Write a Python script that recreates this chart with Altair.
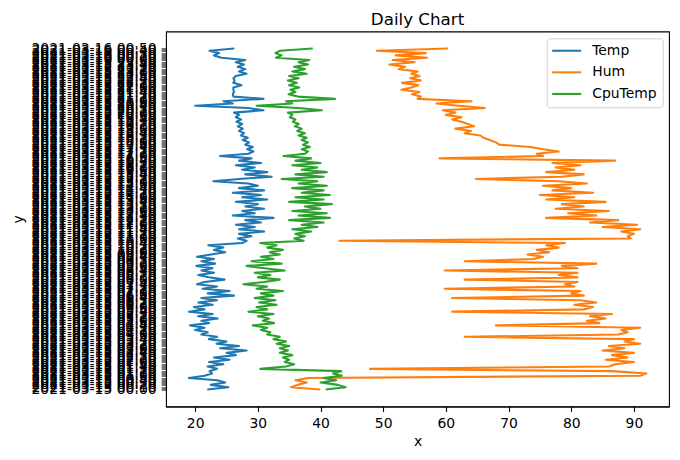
import altair as alt
import pandas as pd

# Category labels (y axis), listed from the top of the chart (last reading) down to the bottom (first reading)
times = [
    "2021-03-16 00:50", "2021-03-16 00:40", "2021-03-16 00:30", "2021-03-16 00:20", "2021-03-16 00:10", "2021-03-16 00:00",
    "2021-03-15 23:50", "2021-03-15 23:40", "2021-03-15 23:30", "2021-03-15 23:20", "2021-03-15 23:10", "2021-03-15 23:00",
    "2021-03-15 22:50", "2021-03-15 22:40", "2021-03-15 22:30", "2021-03-15 22:20", "2021-03-15 22:10", "2021-03-15 22:00",
    "2021-03-15 21:50", "2021-03-15 21:40", "2021-03-15 21:30", "2021-03-15 21:20", "2021-03-15 21:10", "2021-03-15 21:00",
    "2021-03-15 20:50", "2021-03-15 20:40", "2021-03-15 20:30", "2021-03-15 20:20", "2021-03-15 20:10", "2021-03-15 20:00",
    "2021-03-15 19:50", "2021-03-15 19:40", "2021-03-15 19:30", "2021-03-15 19:20", "2021-03-15 19:10", "2021-03-15 19:00",
    "2021-03-15 18:50", "2021-03-15 18:40", "2021-03-15 18:30", "2021-03-15 18:20", "2021-03-15 18:10", "2021-03-15 18:00",
    "2021-03-15 17:50", "2021-03-15 17:40", "2021-03-15 17:30", "2021-03-15 17:20", "2021-03-15 17:10", "2021-03-15 17:00",
    "2021-03-15 16:50", "2021-03-15 16:40", "2021-03-15 16:30", "2021-03-15 16:20", "2021-03-15 16:10", "2021-03-15 16:00",
    "2021-03-15 15:50", "2021-03-15 15:40", "2021-03-15 15:30", "2021-03-15 15:20", "2021-03-15 15:10", "2021-03-15 15:00",
    "2021-03-15 14:50", "2021-03-15 14:40", "2021-03-15 14:30", "2021-03-15 14:20", "2021-03-15 14:10", "2021-03-15 14:00",
    "2021-03-15 13:50", "2021-03-15 13:40", "2021-03-15 13:30", "2021-03-15 13:20", "2021-03-15 13:10", "2021-03-15 13:00",
    "2021-03-15 12:50", "2021-03-15 12:40", "2021-03-15 12:30", "2021-03-15 12:20", "2021-03-15 12:10", "2021-03-15 12:00",
    "2021-03-15 11:50", "2021-03-15 11:40", "2021-03-15 11:30", "2021-03-15 11:20", "2021-03-15 11:10", "2021-03-15 11:00",
    "2021-03-15 10:50", "2021-03-15 10:40", "2021-03-15 10:30", "2021-03-15 10:20", "2021-03-15 10:10", "2021-03-15 10:00",
    "2021-03-15 09:50", "2021-03-15 09:40", "2021-03-15 09:30", "2021-03-15 09:20", "2021-03-15 09:10", "2021-03-15 09:00",
    "2021-03-15 08:50", "2021-03-15 08:40", "2021-03-15 08:30", "2021-03-15 08:20", "2021-03-15 08:10", "2021-03-15 08:00",
    "2021-03-15 07:50", "2021-03-15 07:40", "2021-03-15 07:30", "2021-03-15 07:20", "2021-03-15 07:10", "2021-03-15 07:00",
    "2021-03-15 06:50", "2021-03-15 06:40", "2021-03-15 06:30", "2021-03-15 06:20", "2021-03-15 06:10", "2021-03-15 06:00",
    "2021-03-15 05:50", "2021-03-15 05:40", "2021-03-15 05:30", "2021-03-15 05:20", "2021-03-15 05:10", "2021-03-15 05:00",
    "2021-03-15 04:50", "2021-03-15 04:40", "2021-03-15 04:30", "2021-03-15 04:20", "2021-03-15 04:10", "2021-03-15 04:00",
    "2021-03-15 03:50", "2021-03-15 03:40", "2021-03-15 03:30", "2021-03-15 03:20", "2021-03-15 03:10", "2021-03-15 03:00",
    "2021-03-15 02:50", "2021-03-15 02:40", "2021-03-15 02:30", "2021-03-15 02:20", "2021-03-15 02:10", "2021-03-15 02:00",
    "2021-03-15 01:50", "2021-03-15 01:40", "2021-03-15 01:30", "2021-03-15 01:20", "2021-03-15 01:10", "2021-03-15 01:00",
    "2021-03-15 00:50", "2021-03-15 00:40", "2021-03-15 00:30", "2021-03-15 00:20", "2021-03-15 00:10", "2021-03-15 00:00",
]

# Series values, same order as times (top of chart first)
temp = [
    26.1, 22.3, 23.8, 23.0, 24.2, 28.0, 26.5, 27.8, 26.8, 28.0,
    27.0, 28.2, 26.5, 26.1, 26.3, 26.1, 27.4, 26.1, 26.1, 26.2,
    26.0, 26.1, 30.9, 24.5, 26.0, 20.0, 28.5, 30.9, 26.2, 27.0,
    26.5, 27.3, 26.6, 27.5, 26.8, 27.6, 27.0, 27.8, 27.3, 28.4,
    27.6, 28.6, 28.0, 29.2, 28.3, 29.3, 28.5, 24.0, 29.0, 27.0,
    30.5, 26.5, 29.5, 27.5, 31.5, 28.0, 32.2, 27.0, 22.9, 28.5,
    30.0, 27.0, 31.0, 26.0, 30.5, 27.5, 31.5, 26.5, 30.0, 28.0,
    31.0, 27.5, 29.5, 26.0, 32.5, 28.0, 30.5, 26.5, 29.5, 27.0,
    31.0, 27.0, 29.0, 26.8, 28.2, 27.5, 22.1, 24.5, 23.0, 24.8,
    22.5, 20.3, 23.0, 21.0, 23.2, 20.2, 22.8, 21.0, 23.0, 20.5,
    22.2, 24.7, 21.5, 20.3, 23.5, 21.2, 25.5, 22.0, 26.2, 21.0,
    23.5, 20.5, 22.8, 19.8, 21.5, 19.0, 22.8, 20.5, 23.6, 21.0,
    22.2, 19.2, 21.5, 20.0, 22.0, 21.0, 23.5, 22.2, 25.0, 23.4,
    27.0, 24.0, 28.2, 25.0, 26.5, 23.0, 25.5, 22.2, 24.5, 22.0,
    23.5, 22.3, 22.7, 21.5, 19.0, 23.5, 24.8, 22.5, 25.3, 22.1,
]
hum = [
    60.2, 49.0, 56.8, 52.0, 57.0, 51.5, 55.0, 51.0, 53.5, 52.5,
    55.5, 54.5, 55.8, 54.3, 56.0, 53.0, 55.6, 54.5, 52.9, 55.8,
    54.6, 56.0, 55.5, 64.1, 58.5, 62.0, 66.2, 59.5, 61.5, 60.0,
    62.5, 61.0, 62.5, 63.5, 64.5, 61.5, 64.0, 63.0, 65.5, 66.0,
    67.0, 68.0, 68.5, 73.5, 75.5, 78.0, 74.5, 75.5, 59.0, 87.0,
    77.0, 81.5, 77.5, 80.5, 76.0, 82.0, 78.5, 64.8, 78.0, 82.5,
    75.5, 80.0, 77.0, 83.5, 75.0, 80.5, 76.0, 85.5, 78.5, 82.0,
    77.5, 86.0, 79.5, 84.0, 76.0, 87.5, 83.0, 90.5, 85.0, 91.0,
    88.0, 90.0, 89.0, 89.5, 43.0, 79.0, 76.0, 78.0, 74.5, 76.5,
    73.0, 75.5, 74.0, 63.0, 84.0, 78.5, 81.0, 59.8, 81.0, 78.0,
    81.0, 63.0, 81.0, 79.0, 80.5, 59.8, 81.5, 80.0, 82.0, 61.0,
    81.5, 84.0, 80.5, 83.5, 82.0, 61.0, 86.5, 83.0, 85.5, 82.5,
    84.5, 68.0, 91.0, 88.0, 89.0, 87.5, 63.0, 90.0, 88.5, 91.0,
    86.0, 88.5, 85.0, 90.0, 86.5, 89.0, 85.5, 90.0, 87.0, 86.0,
    47.9, 86.5, 92.0, 91.0, 38.0, 36.0, 37.8, 36.3, 35.3, 39.8,
]
cpu_temp = [
    38.6, 33.5, 32.8, 33.8, 32.9, 38.2, 36.5, 38.0, 35.8, 37.5,
    35.5, 37.8, 35.0, 36.5, 34.8, 36.2, 35.0, 36.6, 35.2, 36.0,
    34.9, 36.4, 42.3, 34.5, 35.5, 29.8, 36.5, 40.2, 34.8, 35.5,
    35.1, 36.0, 35.6, 36.5, 35.9, 37.0, 36.3, 37.5, 36.5, 37.8,
    37.0, 38.0, 37.2, 38.3, 37.0, 38.0, 37.5, 34.1, 38.5, 36.0,
    40.0, 35.5, 39.5, 37.0, 41.0, 36.0, 40.5, 33.8, 39.5, 36.5,
    41.0, 35.5, 40.5, 37.0, 41.5, 36.0, 40.5, 35.0, 41.8, 37.5,
    40.0, 35.5, 41.0, 36.5, 41.5, 35.0, 40.5, 37.0, 39.5, 35.5,
    38.5, 36.0, 37.5, 35.8, 37.3, 30.4, 33.0, 31.5, 34.0, 31.9,
    33.5, 30.5, 32.5, 29.0, 33.8, 28.2, 31.0, 34.3, 29.5, 32.0,
    30.0, 33.5, 31.0, 27.7, 31.5, 29.8, 34.0, 30.5, 32.5, 29.5,
    32.8, 30.2, 33.0, 29.8, 31.5, 28.5, 32.5, 30.0, 31.8, 30.8,
    32.6, 29.2, 31.5, 30.5, 32.0, 31.5, 33.5, 32.5, 34.5, 33.0,
    35.0, 33.5, 34.8, 33.5, 35.5, 34.0, 35.0, 34.3, 35.8, 34.5,
    30.4, 43.3, 42.0, 43.4, 40.5, 42.5, 40.0, 42.8, 44.0, 41.0,
]

series_names = ["Temp", "Hum", "CpuTemp"]
series_colors = ["#1f77b4", "#ff7f0e", "#2ca02c"]
x_ticks = [20, 30, 40, 50, 60, 70, 80, 90]

rows = []
for name, vals in zip(series_names, [temp, hum, cpu_temp]):
    for i, (t, v) in enumerate(zip(times, vals)):
        rows.append({"time": t, "series": name, "value": v, "idx": i})
df = pd.DataFrame(rows)

FONT = "DejaVu Sans"
W, H = 503, 375
MARGIN = H / 1.1 * 0.05  # matplotlib's 5% data margin on each end

chart = (
    alt.Chart(df)
    .mark_line(strokeWidth=2.08, strokeJoin="round", strokeCap="square")
    .encode(
        x=alt.X(
            "value:Q",
            title="x",
            scale=alt.Scale(domain=[15.35, 95.6], nice=False, zero=False),
            axis=alt.Axis(values=x_ticks, grid=False, tickSize=4.9, labelPadding=4.9,
                          titlePadding=4.5, format="d"),
        ),
        y=alt.Y(
            "time:N",
            title="y",
            sort=times,
            scale=alt.Scale(type="point", range=[MARGIN, H - MARGIN], padding=0),
            axis=alt.Axis(grid=False, labelOverlap=False, tickSize=4.9, labelPadding=4.9,
                          titlePadding=6),
        ),
        color=alt.Color(
            "series:N",
            scale=alt.Scale(domain=series_names, range=series_colors),
            legend=alt.Legend(
                title=None, orient="none", legendX=380.7, legendY=6.8,
                symbolType="M-6.95,0H22.05", symbolSize=4, symbolStrokeWidth=2.08,
                labelFontSize=13.9, labelFont=FONT, labelColor="black",
                labelOffset=26.1, rowPadding=6.6, padding=5.5,
                fillColor="rgba(255,255,255,0.8)", strokeColor="#d0d0d0", cornerRadius=3,
            ),
        ),
        order=alt.Order("idx:Q"),
    )
    .properties(
        width=W,
        height=H,
        autosize="none",
        padding={"left": 158, "top": 23.5, "right": 3, "bottom": 55},
        title=alt.Title("Daily Chart", fontSize=16.7, fontWeight="normal", font=FONT,
                        offset=8.3, anchor="middle", frame="group", baseline="alphabetic",
                        dy=18.5, color="black"),
    )
    .configure_view(stroke="black", strokeWidth=1.1)
    .configure_axis(
        labelFont=FONT, titleFont=FONT, labelFontSize=13.9, titleFontSize=13.9,
        labelColor="black", titleColor="black", domainColor="black", tickColor="black",
        domainWidth=1.1, tickWidth=1.1, titleFontWeight="normal",
    )
)

chart.save("out.html", embed_options={"renderer": "svg", "actions": False})
